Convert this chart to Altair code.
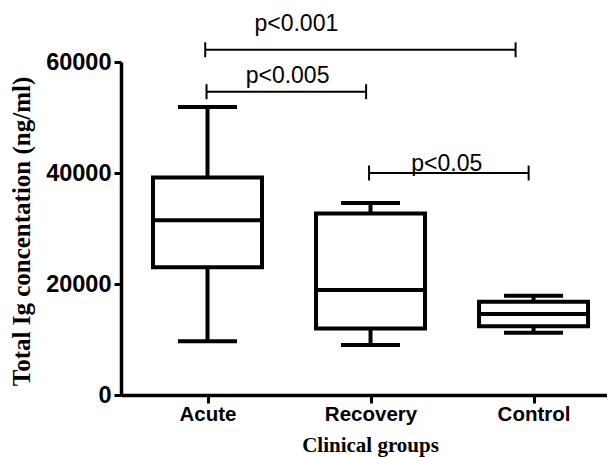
import json
import altair as alt
import pandas as pd

# ---- data ----
groups = ["Acute", "Recovery", "Control"]
group_pos = [0.5, 1.5, 2.5]
whisker_low = [9700, 9000, 11200]
q1 = [23000, 12000, 12400]
median = [31500, 18900, 14600]
q3 = [39200, 32700, 16800]
whisker_high = [51900, 34600, 17900]

sig_labels = ["p<0.001", "p<0.005", "p<0.05"]
sig_start = [0.486, 0.494, 1.491]
sig_end = [2.39, 1.473, 2.47]
sig_level = [62200, 54650, 40000]
sig_text_x = [1.045, 0.991, 1.968]
sig_text_y = [65640, 56270, 40414]

y_ticks = [0, 20000, 40000, 60000]

boxes = pd.DataFrame({
    "group": groups, "pos": group_pos, "low": whisker_low, "q1": q1,
    "median": median, "q3": q3, "high": whisker_high,
})
brackets = pd.DataFrame({
    "label": sig_labels, "start": sig_start, "end": sig_end,
    "level": sig_level, "tx": sig_text_x, "ty": sig_text_y,
})
bracket_ends = pd.DataFrame({
    "pos": sig_start + sig_end,
    "level": sig_level + sig_level,
})

x_scale = alt.Scale(domain=[0, 2.92], nice=False, zero=False)
y_scale = alt.Scale(domain=[0, 60000], nice=False, zero=True)

label_expr = json.dumps(groups) + "[floor(datum.value)]"

x_axis = alt.Axis(
    values=group_pos, labelExpr=label_expr, grid=False,
    title="Clinical groups",
    domainColor="black", domainWidth=3.5,
    tickColor="black", tickWidth=3, tickSize=8,
    labelFont="Liberation Sans", labelFontSize=20.5, labelFontWeight="bold",
    labelColor="black", labelBaseline="alphabetic", labelPadding=17,
    titleFont="Liberation Serif", titleFontSize=21, titleFontWeight="bold",
    titleColor="black", titleX=249, titleY=56, titleBaseline="alphabetic",
    titleAlign="center",
)
y_axis = alt.Axis(
    values=y_ticks, format="d", grid=False,
    title="Total Ig concentation (ng/ml)",
    domainColor="black", domainWidth=3.5,
    tickColor="black", tickWidth=3, tickSize=7,
    labelFont="Liberation Sans", labelFontSize=23.5, labelFontWeight="bold",
    labelColor="black", labelPadding=3,
    titleFont="Liberation Serif", titleFontSize=25, titleFontWeight="bold",
    titleColor="black", titleX=-100, titleY=169, titleBaseline="middle",
    titleAlign="center", titleAngle=270,
)

X = lambda f: alt.X(f"{f}:Q", scale=x_scale, axis=x_axis)
Y = lambda f: alt.Y(f"{f}:Q", scale=y_scale, axis=y_axis)

base = alt.Chart(boxes)

whisk_lo = base.mark_rule(color="black", strokeWidth=4).encode(
    x=X("pos"), y=Y("low"), y2="q1")
whisk_hi = base.mark_rule(color="black", strokeWidth=4).encode(
    x=X("pos"), y=Y("q3"), y2="high")
box = base.mark_bar(size=109, fill="white", stroke="black", strokeWidth=4,
                    opacity=1).encode(x=X("pos"), y=Y("q1"), y2="q3")
med = base.mark_tick(orient="horizontal", size=109, thickness=4,
                     color="black", opacity=1).encode(x=X("pos"), y=Y("median"))
cap_lo = base.mark_tick(orient="horizontal", size=59, thickness=4,
                        color="black", opacity=1).encode(x=X("pos"), y=Y("low"))
cap_hi = base.mark_tick(orient="horizontal", size=59, thickness=4,
                        color="black", opacity=1).encode(x=X("pos"), y=Y("high"))

br = alt.Chart(brackets)
br_line = br.mark_rule(color="black", strokeWidth=2).encode(
    x=X("start"), x2="end", y=Y("level"))
br_ends = alt.Chart(bracket_ends).mark_tick(
    orient="vertical", size=15, thickness=2, color="black", opacity=1
).encode(x=X("pos"), y=Y("level"))
br_text = br.mark_text(font="Liberation Sans", fontSize=23, color="black",
                       baseline="alphabetic", align="center").encode(
    x=X("tx"), y=Y("ty"), text="label:N")

chart = alt.layer(
    whisk_lo, whisk_hi, box, med, cap_lo, cap_hi, br_line, br_ends, br_text
).properties(
    width=486, height=333,
    autosize=alt.AutoSizeParams(type="none"),
    padding={"left": 113, "top": 54, "right": 0, "bottom": 62},
    background="white",
).configure_view(stroke=None)

chart.save("out.html", embed_options={"renderer": "svg", "actions": False})
